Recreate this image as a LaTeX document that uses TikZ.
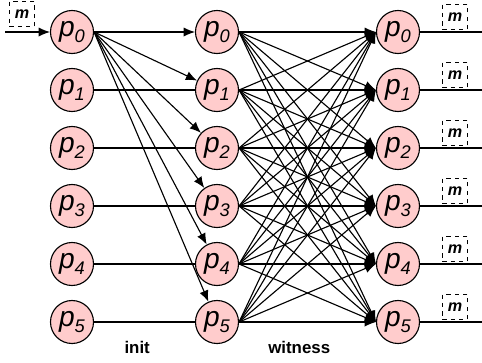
\documentclass[tikz,border=0pt]{standalone}
\usepackage{fontspec}
\setmainfont{Liberation Sans}
\usepackage{tikz}
\usetikzlibrary{arrows.meta}

\definecolor{procpink}{HTML}{FFCCCC}
\newcommand{\pid}[1]{\fontsize{20}{20}\selectfont\itshape p\raisebox{-0.4ex}{\fontsize{13}{13}\selectfont\itshape #1}}
\tikzset{
  proc/.style={circle,draw,thick,fill=procpink,minimum size=1.075cm,inner sep=0pt},
  msg/.style={draw,dashed,minimum size=0.63cm,inner sep=0pt,font=\fontsize{11.5}{11.5}\selectfont\bfseries\itshape},
  phase/.style={font=\fontsize{12}{12}\selectfont\bfseries}
}

\begin{document}
\begin{tikzpicture}[>={Latex[length=2.8mm,width=2.3mm]}]
\useasboundingbox (0,0) rectangle (12.05,9.05);
% Processes (three rounds)
\foreach \i in {0,...,5} {
  \node[proc] (a\i) at (1.8,8.25-1.45*\i) {\pid{\i}};
  \node[proc] (b\i) at (5.425,8.25-1.45*\i) {\pid{\i}};
  \node[proc] (c\i) at (9.95,8.25-1.45*\i) {\pid{\i}};
}

% Input message
\coordinate (in) at (0.125,8.25);
\draw[->,thick] (in) -- (a0);
\node[msg] (m) at (0.55,8.7) {m};

% Init
\foreach \i in {0,...,5} \draw[->,thick] (a0.east) -- (b\i);
\foreach \i in {1,...,5} \draw[thick] (a\i) -- (b\i);
\node[phase] (init) at (3.43,0.375) {init};

% Witness
\foreach \i in {0,...,5} \foreach \j in {0,...,5} \draw[->,thick] (b\i.east) -- (c\j.west);
\node[phase] (witness) at (7.48,0.375) {witness};

% Output messages
\foreach \i in {0,...,5} {
  \coordinate (out\i) at (12.05,8.25-1.45*\i);
  \draw[thick] (c\i) -- (out\i);
  \node[msg] (m\i) at (11.375,8.63-1.45*\i) {m};
}
\end{tikzpicture}
\end{document}
